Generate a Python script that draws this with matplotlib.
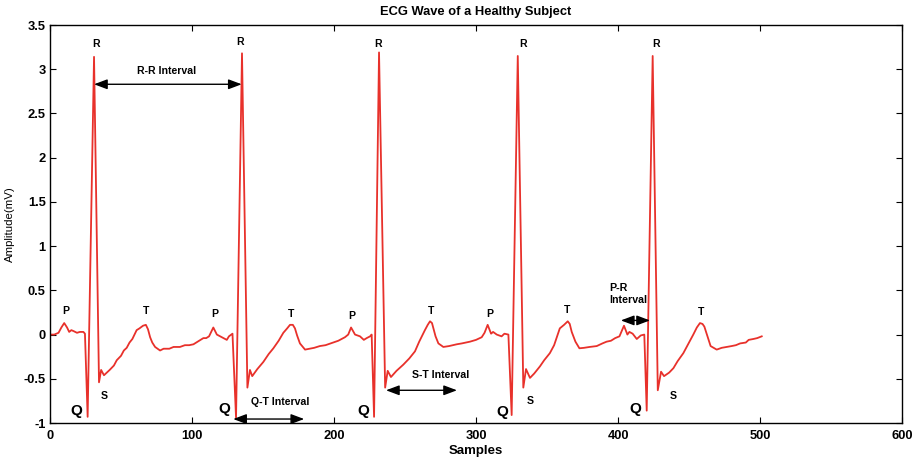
import numpy as np
import matplotlib.pyplot as plt

plt.rcParams['font.family'] = ['Liberation Sans', 'DejaVu Sans']

# ECG trace, beat by beat (sample index, amplitude in mV)
beat1_x = [0, 3, 6, 8, 10, 12, 13.5, 15, 16.5, 19, 21, 23.5, 24.6, 26.5, 31,
           34.5, 36, 38, 42, 45, 47, 50, 52, 54, 56, 58, 61, 63, 65.5, 67.5,
           69, 70.5, 72, 74, 77.5, 80, 84, 87, 91.5, 95, 98, 101, 104, 108,
           110, 112, 115, 117.5, 121, 124.5, 126, 128.5]
beat1_y = [0.0, 0.0, 0.02, 0.08, 0.13, 0.08, 0.03, 0.05, 0.04, 0.02, 0.03, 0.03, 0.01, -0.93, 3.14,
           -0.54, -0.40, -0.46, -0.40, -0.35, -0.29, -0.24, -0.18, -0.15, -0.09, -0.05, 0.05, 0.07, 0.10, 0.11,
           0.06, -0.03, -0.09, -0.14, -0.18, -0.16, -0.16, -0.14, -0.14, -0.12, -0.12, -0.11, -0.08, -0.04,
           -0.04, -0.02, 0.08, 0.0, -0.03, -0.06, -0.02, 0.01]

beat2_x = [131, 135.2, 139, 140.8, 142.4, 146, 150.2, 154, 157.3, 161, 164.3, 167,
           169, 171, 172.5, 174, 176, 179.6, 183, 186, 190, 194, 199.5, 203,
           207.7, 210, 212, 214.8, 218.3, 221, 223, 225.4, 226.5]
beat2_y = [-0.94, 3.18, -0.60, -0.40, -0.47, -0.39, -0.31, -0.22, -0.155, -0.07, 0.02, 0.07,
           0.11, 0.11, 0.07, -0.01, -0.10, -0.17, -0.16, -0.15, -0.13, -0.12, -0.09, -0.07,
           -0.03, 0.0, 0.08, 0.0, -0.02, -0.06, -0.04, -0.02, 0.0]

beat3_x = [228.2, 231.7, 236, 237.8, 240.1, 244, 248.8, 253, 257, 260, 264, 266,
           267.6, 269, 270, 271.5, 273.5, 277, 281, 286.4, 290, 295.8, 300, 304,
           306, 308.2, 310.6, 312, 314.6, 318, 320, 322.8]
beat3_y = [-0.93, 3.19, -0.60, -0.41, -0.48, -0.41, -0.34, -0.27, -0.19, -0.08, 0.05, 0.11,
           0.15, 0.13, 0.07, -0.02, -0.10, -0.14, -0.13, -0.11, -0.10, -0.08, -0.06, -0.03,
           0.02, 0.11, 0.01, 0.03, 0.0, -0.02, 0.01, 0.0]

beat4_x = [325.1, 329.4, 333.3, 335.2, 338, 341, 345, 348, 352, 355, 359, 362,
           364.6, 366, 367.4, 370, 372.8, 376, 380, 385, 389, 392, 395, 398,
           401, 404.2, 406.6, 408, 410.3, 413.2, 416, 418.5]
beat4_y = [-0.91, 3.15, -0.60, -0.39, -0.49, -0.44, -0.36, -0.29, -0.21, -0.12, 0.07, 0.11,
           0.15, 0.12, 0.03, -0.08, -0.155, -0.15, -0.14, -0.13, -0.10, -0.08, -0.07, -0.04,
           -0.02, 0.10, 0.0, 0.03, 0.01, -0.05, -0.01, 0.0]

beat5_x = [420.2, 424.4, 428, 430.3, 432.4, 436, 439, 442, 446, 449, 453, 455.5,
           457.7, 459.5, 460.8, 463, 465.2, 469.5, 473, 476.5, 480, 483, 486, 490,
           492, 495.3, 498, 501.2]
beat5_y = [-0.86, 3.15, -0.63, -0.42, -0.47, -0.43, -0.38, -0.30, -0.21, -0.12, 0.0, 0.08,
           0.13, 0.12, 0.09, -0.02, -0.13, -0.17, -0.15, -0.14, -0.13, -0.12, -0.10, -0.09,
           -0.06, -0.05, -0.04, -0.02]

samples = np.concatenate([beat1_x, beat2_x, beat3_x, beat4_x, beat5_x])
amplitude = np.concatenate([beat1_y, beat2_y, beat3_y, beat4_y, beat5_y])

# wave labels (x, y)
r_pos = [(32.4, 3.29), (133.5, 3.31), (231, 3.29), (333, 3.29), (427, 3.29)]
p_pos = [(11.3, 0.27), (116, 0.23), (212.7, 0.21), (310, 0.23)]
t_pos = [(67.6, 0.27), (169.7, 0.23), (268.3, 0.27), (364, 0.28), (458.5, 0.26)]
s_pos = [(38, -0.70), (338, -0.75), (438.7, -0.70)]
q_pos = [(18.3, -0.86), (122.5, -0.84), (220.4, -0.86), (318.3, -0.87), (412, -0.84)]

# interval arrows: label, label pos, arrow start, arrow end
intervals = [
    ('R-R Interval', (82.4, 2.98), (31, 2.83), (135, 2.83)),
    ('Q-T Interval', (162, -0.76), (129, -0.955), (179, -0.955)),
    ('S-T Interval', (275.4, -0.46), (236.6, -0.63), (286.6, -0.63)),
]

fig = plt.figure(figsize=(9.21, 4.59), dpi=100)
ax = fig.add_axes([0.0543, 0.0784, 0.9251, 0.8671])

ax.plot(samples, amplitude, color='#e8312b', linewidth=1.3)

small = dict(ha='center', va='center', fontsize=7.6, fontweight='bold')
for x, y in r_pos:
    ax.text(x, y, 'R', **small)
for x, y in p_pos:
    ax.text(x, y, 'P', **small)
for x, y in t_pos:
    ax.text(x, y, 'T', **small)
for x, y in s_pos:
    ax.text(x, y, 'S', **small)
for x, y in q_pos:
    ax.text(x, y, 'Q', ha='center', va='center', fontsize=11, fontweight='bold')

arrow_style = dict(arrowstyle='<|-|>,head_length=0.8,head_width=0.3', color='black',
                   lw=1.0, mutation_scale=10, shrinkA=0, shrinkB=0)
for label, (lx, ly), start, end in intervals:
    ax.text(lx, ly, label, **small)
    ax.annotate('', xy=end, xytext=start, arrowprops=arrow_style)

ax.text(393.7, 0.46, 'P-R\nInterval', ha='left', va='center', fontsize=7.7,
        fontweight='bold', linespacing=1.3)
ax.annotate('', xy=(422.5, 0.16), xytext=(402, 0.16), arrowprops=arrow_style)

ax.set_xlim(0, 600)
ax.set_ylim(-1, 3.5)
ax.set_xticks(np.arange(0, 601, 100))
ax.set_yticks(np.arange(-1, 3.51, 0.5))
ax.set_yticklabels(['-1', '-0.5', '0', '0.5', '1', '1.5', '2', '2.5', '3', '3.5'])
ax.tick_params(direction='in', top=True, right=True, length=4, width=0.8,
               labelsize=9.3)
ax.tick_params(axis='x', pad=5)
ax.tick_params(axis='y', pad=3)
for lab in ax.get_xticklabels() + ax.get_yticklabels():
    lab.set_fontweight('bold')
for sp in ax.spines.values():
    sp.set_linewidth(1.0)

ax.set_title('ECG Wave of a Healthy Subject', fontsize=9.3, fontweight='bold', pad=7)
ax.set_xlabel('Samples', fontsize=9.5, fontweight='bold', labelpad=2.5)
ax.set_ylabel('Amplitude(mV)', fontsize=8.2, labelpad=6)

fig.savefig('out.png', dpi=100)
